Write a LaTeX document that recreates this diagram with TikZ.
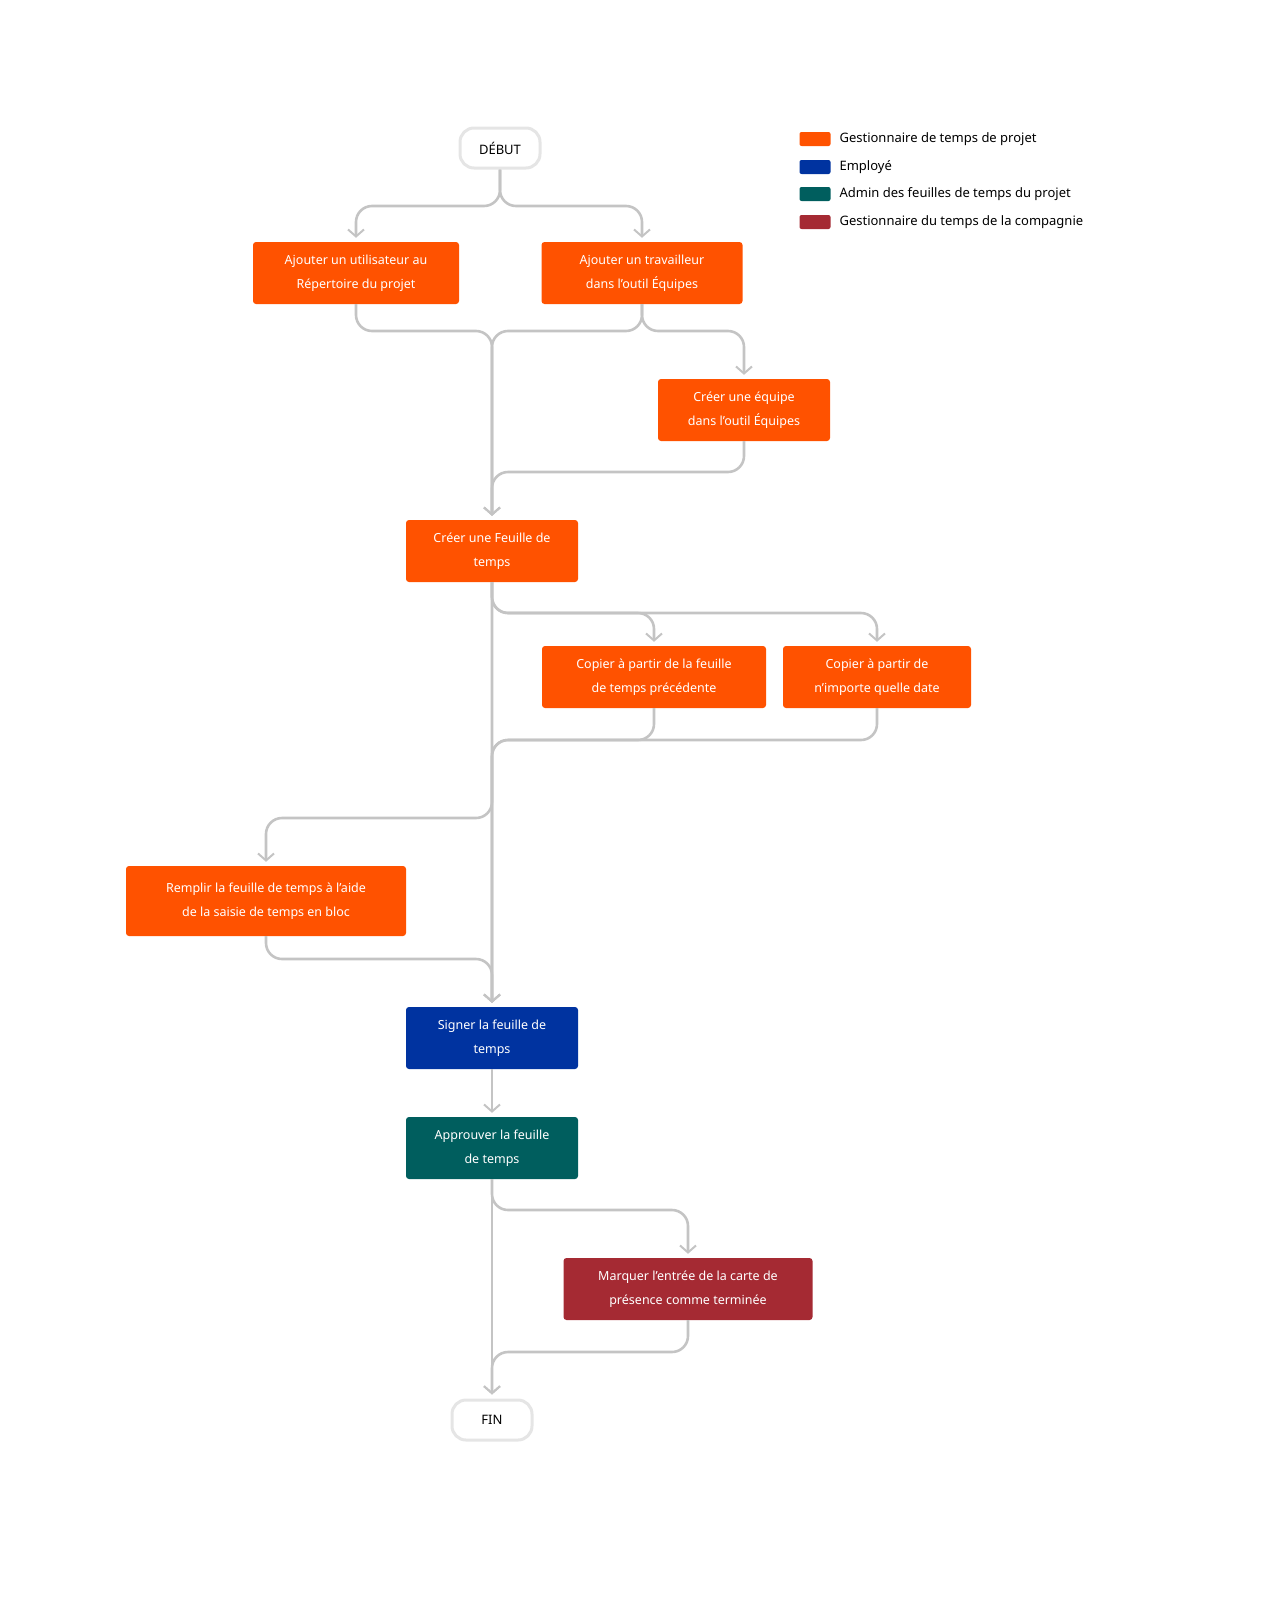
\documentclass[tikz,border=0pt]{standalone}
\usepackage{fontspec}
\setmainfont{Noto Sans}
\usetikzlibrary{arrows.meta}
\definecolor{mgr}{HTML}{FF5200}
\definecolor{emp}{HTML}{0033A0}
\definecolor{adm}{HTML}{005E5E}
\definecolor{cmp}{HTML}{A52A33}
\definecolor{wire}{HTML}{C4C4C4}
\begin{document}
\begin{tikzpicture}[x=1pt,y=-1pt]
		\tikzstyle{task}=[rounded corners=3pt,text=white,font=\fontsize{12.5}{24}\selectfont\bfseries,align=center,minimum height=62pt,inner sep=0pt]
		\tikzstyle{term}=[draw=black!10,line width=3pt,fill=white,rounded corners=14pt,minimum width=80pt,minimum height=40pt,font=\fontsize{13}{16}\selectfont]
		\tikzstyle{link}=[draw=wire,line width=2.6pt,rounded corners=16pt,shorten >=4pt,-{Straight Barb[length=7pt,width=16pt,line width=2pt]}]
		\tikzstyle{key}=[minimum width=31pt,minimum height=14pt,inner sep=0pt,rounded corners=2pt]
		\useasboundingbox (0,0) rectangle (1281,1598);
		
		\node[term](debut) at (500,148){DÉBUT};
		\node[task,fill=mgr,minimum width=206pt](user) at (356,273){Ajouter un utilisateur au\\Répertoire du projet};
		\node[task,fill=mgr,minimum width=201pt](worker) at (642,273){Ajouter un travailleur\\dans l'outil Équipes};
		\node[task,fill=mgr,minimum width=172pt](team) at (744,410){Créer une équipe\\dans l'outil Équipes};
		\node[task,fill=mgr,minimum width=172pt](sheet) at (492,551){Créer une Feuille de\\temps};
		\node[task,fill=mgr,minimum width=224pt](prev) at (654,677){Copier à partir de la feuille\\de temps précédente};
		\node[task,fill=mgr,minimum width=188pt](any) at (877,677){Copier à partir de\\n'importe quelle date};
		\node[task,fill=mgr,minimum width=280pt,minimum height=70pt](bulk) at (266,901){Remplir la feuille de temps à l'aide\\de la saisie de temps en bloc};
		\node[task,fill=emp,minimum width=172pt](sign) at (492,1038){Signer la feuille de\\temps};
		\node[task,fill=adm,minimum width=172pt](approve) at (492,1148){Approuver la feuille\\de temps};
		\node[task,fill=cmp,minimum width=249pt](mark) at (688,1289){Marquer l'entrée de la carte de\\présence comme terminée};
		\node[term](fin) at (492,1420){FIN};
		
		\node[key,fill=mgr](k1) at (815,139){};
		\node[key,fill=emp](k2) at (815,167){};
		\node[key,fill=adm](k3) at (815,194){};
		\node[key,fill=cmp](k4) at (815,222){};
		\node[anchor=west,font=\fontsize{13}{16}\selectfont] at (836,139){Gestionnaire de temps de projet};
		\node[anchor=west,font=\fontsize{13}{16}\selectfont] at (836,167){Employé};
		\node[anchor=west,font=\fontsize{13}{16}\selectfont] at (836,194){Admin des feuilles de temps du projet};
		\node[anchor=west,font=\fontsize{13}{16}\selectfont] at (836,222){Gestionnaire du temps de la compagnie};
		
		\draw[link] (debut.south) |- (428,206) -| (user.north);
		\draw[link] (debut.south) |- (571,206) -| (worker.north);
		
		\draw[link] (user.south) |- (424,331) -| (sheet.north);
		\draw[link] (worker.south) |- (567,331) -| (sheet.north);
		\draw[link] (worker.south) |- (693,331) -| (team.north);
		\draw[link] (team.south) |- (618,472) -| (sheet.north);
		
		\draw[link] (sheet.south) -- (sign.north);
		\draw[link] (sheet.south) |- (573,613) -| (prev.north);
		\draw[link] (sheet.south) |- (684,613) -| (any.north);
		\draw[link] (prev.south) |- (573,740) -| (sign.north);
		\draw[link] (any.south) |- (684,740) -| (sign.north);
		\draw[link] (sheet.south) |- (379,818) -| (bulk.north);
		\draw[link] (bulk.south) |- (379,959) -| (sign.north);
		
		\draw[link] (sign) -- (approve);
		\draw[link] (approve.south) -- (fin.north);
		\draw[link] (approve.south) |- (590,1210) -| (mark.north);
		\draw[link] (mark.south) |- (590,1352) -| (fin.north);
\end{tikzpicture}
\end{document}
